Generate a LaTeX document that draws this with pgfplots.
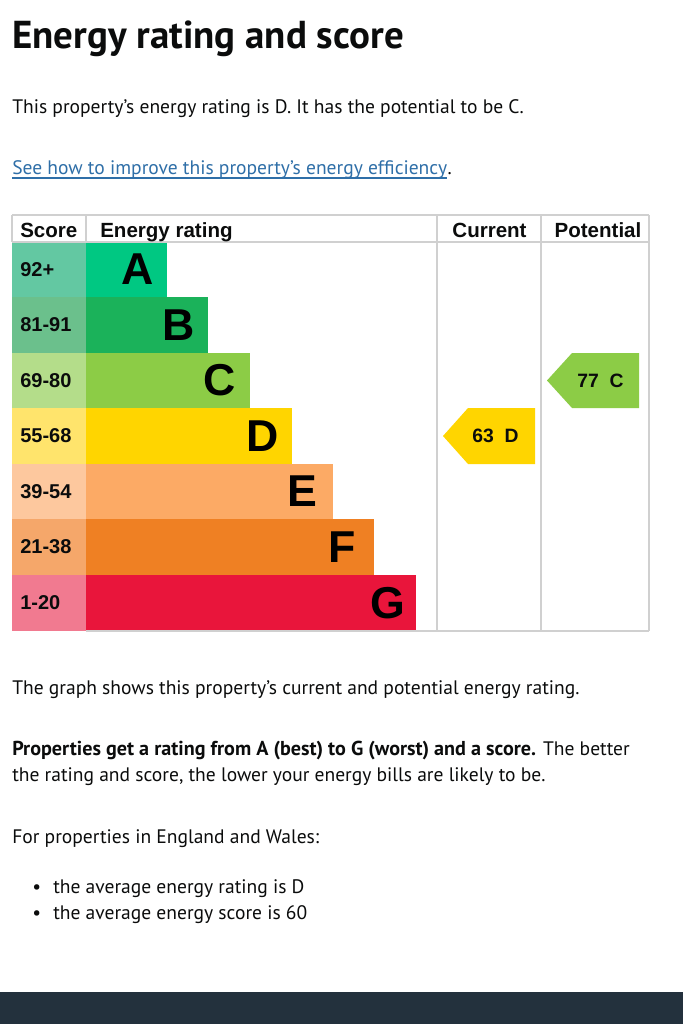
\documentclass[border=0pt]{standalone}
\usepackage{pgfplots}
\pgfplotsset{compat=1.18}
\usepackage{fontspec}
\setmainfont{PT Sans}
\newfontfamily\arial{Liberation Sans}
\definecolor{txt}{HTML}{0B0C0C}
\definecolor{linkblue}{HTML}{2F6FA8}
\definecolor{gridc}{HTML}{D0D0D0}
\definecolor{footer}{HTML}{23313D}
\definecolor{barA}{HTML}{00C882}
\definecolor{barB}{HTML}{1BB25A}
\definecolor{barC}{HTML}{8CCC46}
\definecolor{barD}{HTML}{FFD500}
\definecolor{barE}{HTML}{FCAA65}
\definecolor{barF}{HTML}{EF8023}
\definecolor{barG}{HTML}{E9153B}
\definecolor{scA}{HTML}{63C8A2}
\definecolor{scB}{HTML}{6BC08C}
\definecolor{scC}{HTML}{B4DD8A}
\definecolor{scD}{HTML}{FFE46C}
\definecolor{scE}{HTML}{FDC89E}
\definecolor{scF}{HTML}{F5A76A}
\definecolor{scG}{HTML}{F17A90}
\newcommand{\bodyf}{\fontsize{14.65}{17}\selectfont\color{txt}}
\newcommand{\cellf}{\arial\bfseries\fontsize{15.4}{17}\selectfont\color{txt}}
\newcommand{\numf}{\arial\bfseries\fontsize{15}{17}\selectfont\color{txt}}
\newcommand{\bigf}{\arial\bfseries\fontsize{33.5}{36}\selectfont\color{black}}
\newcommand{\arrf}{\arial\bfseries\fontsize{14.5}{16}\selectfont\color{txt}}
\begin{document}
\begin{tikzpicture}
\begin{axis}[width=512.25pt,height=768pt,scale only axis,
  xmin=0,xmax=683,ymin=0,ymax=1024,y dir=reverse,
  hide axis,clip=false,no markers]
% background and footer
\addplot[fill=white,draw=none] coordinates {(0,0)(683,0)(683,1024)(0,1024)};
\addplot[fill=footer,draw=none] coordinates {(0,992)(683,992)(683,1024)(0,1024)};
% score cells
\addplot[fill=scA,draw=none] coordinates {(12,242)(86,242)(86,297)(12,297)};
\addplot[fill=scB,draw=none] coordinates {(12,297)(86,297)(86,353)(12,353)};
\addplot[fill=scC,draw=none] coordinates {(12,353)(86,353)(86,408)(12,408)};
\addplot[fill=scD,draw=none] coordinates {(12,408)(86,408)(86,464)(12,464)};
\addplot[fill=scE,draw=none] coordinates {(12,464)(86,464)(86,519)(12,519)};
\addplot[fill=scF,draw=none] coordinates {(12,519)(86,519)(86,575)(12,575)};
\addplot[fill=scG,draw=none] coordinates {(12,575)(86,575)(86,631)(12,631)};
% rating bars
\addplot[fill=barA,draw=none] coordinates {(86,242)(167,242)(167,297)(86,297)};
\addplot[fill=barB,draw=none] coordinates {(86,297)(208,297)(208,353)(86,353)};
\addplot[fill=barC,draw=none] coordinates {(86,353)(250,353)(250,408)(86,408)};
\addplot[fill=barD,draw=none] coordinates {(86,408)(292,408)(292,464)(86,464)};
\addplot[fill=barE,draw=none] coordinates {(86,464)(333,464)(333,519)(86,519)};
\addplot[fill=barF,draw=none] coordinates {(86,519)(374,519)(374,575)(86,575)};
\addplot[fill=barG,draw=none] coordinates {(86,575)(416,575)(416,631)(86,631)};
% arrows
\addplot[fill=barD,draw=none] coordinates {(535,408)(468,408)(443,436)(468,464)(535,464)};
\addplot[fill=barC,draw=none] coordinates {(639,353)(572,353)(547,380.5)(572,408)(639,408)};
% grid
\draw[gridc,line width=1pt] (axis cs:12,215) -- (axis cs:649,215);
\draw[gridc,line width=1pt] (axis cs:12,242) -- (axis cs:649,242);
\draw[gridc,line width=1pt] (axis cs:86,631) -- (axis cs:649,631);
\draw[gridc,line width=1pt] (axis cs:12,215) -- (axis cs:12,242);
\draw[gridc,line width=1pt] (axis cs:86,215) -- (axis cs:86,242);
\draw[gridc,line width=1pt] (axis cs:437,215) -- (axis cs:437,631);
\draw[gridc,line width=1pt] (axis cs:541,215) -- (axis cs:541,631);
\draw[gridc,line width=1pt] (axis cs:649,215) -- (axis cs:649,631);
% header
\node[anchor=base west,inner sep=0] at (axis cs:20,237) {\cellf Score};
\node[anchor=base west,inner sep=0] at (axis cs:100,237) {\cellf Energy rating};
\node[anchor=base,inner sep=0] at (axis cs:489.5,237) {\cellf Current};
\node[anchor=base,inner sep=0] at (axis cs:598,237) {\cellf Potential};
% score labels
\node[anchor=west,inner sep=0] at (axis cs:20,269.5) {\numf 92+};
\node[anchor=west,inner sep=0] at (axis cs:20,325) {\numf 81-91};
\node[anchor=west,inner sep=0] at (axis cs:20,380.5) {\numf 69-80};
\node[anchor=west,inner sep=0] at (axis cs:20,436) {\numf 55-68};
\node[anchor=west,inner sep=0] at (axis cs:20,491.5) {\numf 39-54};
\node[anchor=west,inner sep=0] at (axis cs:20,547) {\numf 21-38};
\node[anchor=west,inner sep=0] at (axis cs:20,603) {\numf 1-20};
% letters
\node[anchor=center,inner sep=0] at (axis cs:137.5,269.5) {\bigf A};
\node[anchor=center,inner sep=0] at (axis cs:179,325) {\bigf B};
\node[anchor=center,inner sep=0] at (axis cs:220,380.5) {\bigf C};
\node[anchor=center,inner sep=0] at (axis cs:262.5,436) {\bigf D};
\node[anchor=center,inner sep=0] at (axis cs:302.5,491.5) {\bigf E};
\node[anchor=center,inner sep=0] at (axis cs:342.5,547) {\bigf F};
\node[anchor=center,inner sep=0] at (axis cs:388,603) {\bigf G};
% arrow labels
\node[anchor=center,inner sep=0] at (axis cs:495.5,436) {\arrf 63\ \ D};
\node[anchor=center,inner sep=0] at (axis cs:600.5,380.5) {\arrf 77\ \ C};
% texts
\node[anchor=base west,inner sep=0] at (axis cs:12,48) {\fontsize{29.2}{32}\selectfont\bfseries\color{txt}Energy rating and score};
\node[anchor=base west,inner sep=0] at (axis cs:12,113) {\bodyf This property’s energy rating is D. It has the potential to be C.};
\node[anchor=base west,inner sep=0] (lnk) at (axis cs:12,174) {\bodyf\color{linkblue}See how to improve this property’s energy efficiency};
\draw[linkblue,line width=0.8pt] ([yshift=-3pt]lnk.base west) -- ([yshift=-3pt]lnk.base east);
\node[anchor=base west,inner sep=0] at (lnk.base east) {\bodyf .};
\node[anchor=base west,inner sep=0] at (axis cs:12,694) {\bodyf The graph shows this property’s current and potential energy rating.};
\node[anchor=base west,inner sep=0] at (axis cs:12,755) {\bodyf{\fontsize{15.1}{17}\selectfont\bfseries Properties get a rating from A (best) to G (worst) and a score.} The better};
\node[anchor=base west,inner sep=0] at (axis cs:12,781) {\bodyf the rating and score, the lower your energy bills are likely to be.};
\node[anchor=base west,inner sep=0] at (axis cs:12,843) {\bodyf For properties in England and Wales:};
\node[anchor=base west,inner sep=0] at (axis cs:32,893) {\bodyf •};
\node[anchor=base west,inner sep=0] at (axis cs:53,893) {\bodyf the average energy rating is D};
\node[anchor=base west,inner sep=0] at (axis cs:32,919) {\bodyf •};
\node[anchor=base west,inner sep=0] at (axis cs:53,919) {\bodyf the average energy score is 60};
\end{axis}
\end{tikzpicture}
\end{document}
